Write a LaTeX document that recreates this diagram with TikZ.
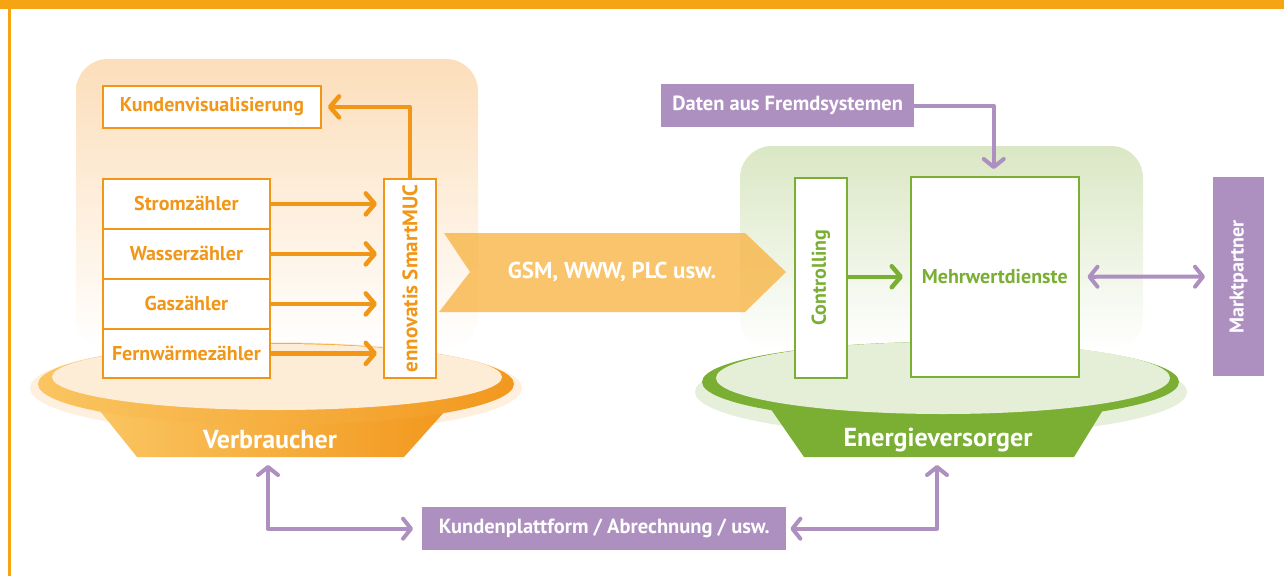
\documentclass[tikz,border=0pt]{standalone}
\usepackage{fontspec}
\setmainfont{PT Sans}
\usetikzlibrary{arrows.meta,calc}

\definecolor{frameor}{RGB}{245,164,19}
\definecolor{orline}{RGB}{242,150,24}
\definecolor{orlight}{RGB}{250,197,97}
\definecolor{ordark}{RGB}{242,152,30}
\definecolor{orhalo}{RGB}{254,239,222}
\definecolor{orinner}{RGB}{253,236,214}
\definecolor{orpanel}{RGB}{252,222,186}
\definecolor{orband}{RGB}{248,181,70}
\definecolor{grline}{RGB}{122,175,51}
\definecolor{grhalo}{RGB}{230,239,218}
\definecolor{grinner}{RGB}{229,239,216}
\definecolor{grpanel}{RGB}{218,231,196}
\definecolor{pu}{RGB}{173,144,192}

\tikzset{
  orbox/.style={draw=orline, line width=1.8pt, fill=white, text=orline,
    font=\fontsize{20}{22}\selectfont\bfseries, inner sep=0pt},
  grbox/.style={draw=grline, line width=1.5pt, fill=white, text=grline,
    font=\fontsize{20}{22}\selectfont\bfseries, inner sep=0pt},
  pubox/.style={fill=pu, text=white, font=\fontsize{20.5}{22}\selectfont\bfseries,
    inner sep=0pt},
  barb/.style={-{Straight Barb[length=9pt,width=21pt,line cap=round,line join=round]}},
  orarrow/.style={draw=orline, line width=4.5pt, barb},
  grarrow/.style={draw=grline, line width=4.5pt, barb},
  puarrow/.style={draw=pu, line width=4pt, line join=round,
    {Straight Barb[length=8pt,width=20pt,line cap=round,line join=round]}-{Straight Barb[length=8pt,width=20pt,line cap=round,line join=round]}},
  puarrowone/.style={draw=pu, line width=4pt, line join=round,
    -{Straight Barb[length=8pt,width=20pt,line cap=round,line join=round]}},
  dishlabel/.style={text=white, font=\fontsize{26}{28}\selectfont\bfseries}
}

\begin{document}
\begin{tikzpicture}[x=1pt,y=-1pt]
\useasboundingbox (0,0) rectangle (1284,576);

% frame
\fill[frameor] (0,0) rectangle (1284,9);
\fill[frameor] (8,0) rectangle (11,576);

% background panels
\shade[rounded corners=32pt, top color=orpanel, bottom color=white]
  (76,59) rectangle (478,350);
\shade[rounded corners=32pt, top color=grpanel, bottom color=white]
  (740,146) rectangle (1143,350);

% consumer dish
\fill[orhalo] (276,388) ellipse [x radius=246pt, y radius=46pt];
\shade[left color=orlight, right color=ordark]
  (96,406) -- (137,457) -- (404,457) -- (446,410) -- cycle;
\shade[left color=orlight, right color=ordark]
  (276,384) ellipse [x radius=238pt, y radius=41pt];
\fill[orinner] (277,377) ellipse [x radius=225pt, y radius=33pt];
\node[dishlabel] (verb) at (270,440) {Verbraucher};
\coordinate (verbtip) at (268,465);

% supplier dish
\fill[grhalo] (941,392) ellipse [x radius=246pt, y radius=44pt];
\fill[grline] (768,405) -- (804,457) -- (1074,457) -- (1106,405) -- cycle;
\fill[grline] (940.5,382) ellipse [x radius=238.5pt, y radius=40pt];
\fill[grinner] (943,378) ellipse [x radius=227pt, y radius=36pt];
\node[dishlabel] (ever) at (938,440) {Energieversorger};
\coordinate (evertip) at (937,465);

% transmission band
\fill[orband, opacity=0.8]
  (444,233) -- (745,233) -- (786,272) -- (745,312) -- (439,312) -- (470,272) -- cycle;
\node[text=white, font=\fontsize{23}{25}\selectfont\bfseries] (band) at (612,272)
  {GSM, WWW, PLC usw.};

% consumer side
\node[orbox, anchor=north west, minimum width=218pt, minimum height=42pt]
  (kunden) at (102,85) {Kundenvisualisierung};
\node[orbox, anchor=north west, minimum width=167pt, minimum height=50pt]
  (strom) at (102,178) {Stromzähler};
\node[orbox, anchor=north west, minimum width=167pt, minimum height=50pt]
  (wasser) at (102,228) {Wasserzähler};
\node[orbox, anchor=north west, minimum width=167pt, minimum height=50pt]
  (gas) at (102,278) {Gaszähler};
\node[orbox, anchor=north west, minimum width=167pt, minimum height=49pt]
  (fern) at (102,328) {Fernwärmezähler};
\node[orbox, anchor=north west, minimum width=52pt, minimum height=199pt]
  (smart) at (383,178) {};
\node[text=orline, font=\fontsize{21}{22}\selectfont\bfseries, rotate=90]
  at (smart.center) {ennovatis SmartMUC};

\foreach \m in {strom,wasser,gas,fern}
  \draw[orarrow, shorten >=6pt] (\m.east) -- (\m.east -| smart.west);
\draw[orarrow, line join=round, shorten >=6pt] (smart.north) |- (kunden.east);

% supplier side
\node[grbox, anchor=north west, minimum width=52pt, minimum height=200pt]
  (ctrl) at (794,177) {};
\node[text=grline, font=\fontsize{20}{22}\selectfont\bfseries, rotate=90]
  at (ctrl.center) {Controlling};
\node[grbox, anchor=north west, minimum width=168pt, minimum height=200pt]
  (mehr) at (910,176) {Mehrwertdienste};
\draw[grarrow, shorten >=7pt] (mehr.west -| ctrl.east) -- (mehr.west);

% partners
\node[pubox, anchor=north west, minimum width=253pt, minimum height=43pt]
  (daten) at (661,84) {Daten aus Fremdsystemen};
\node[pubox, anchor=north west, minimum width=51pt, minimum height=199pt]
  (markt) at (1213,177) {};
\node[text=white, font=\fontsize{20}{22}\selectfont\bfseries, rotate=90]
  at (markt.center) {Marktpartner};
\node[pubox, anchor=north west, minimum width=364pt, minimum height=43pt]
  (plat) at (422,507) {Kundenplattform / Abrechnung / usw.};

\draw[puarrowone, shorten >=7pt] (daten.east) -| ($(mehr.north)+(-1,0)$);
\draw[puarrow, shorten <=8pt, shorten >=8pt] (mehr.east) -- (markt.west);
\draw[puarrow, shorten <=9pt] (plat.west) -| (verbtip);
\draw[puarrow, shorten <=4pt] (plat.east) -| (evertip);

\end{tikzpicture}
\end{document}
